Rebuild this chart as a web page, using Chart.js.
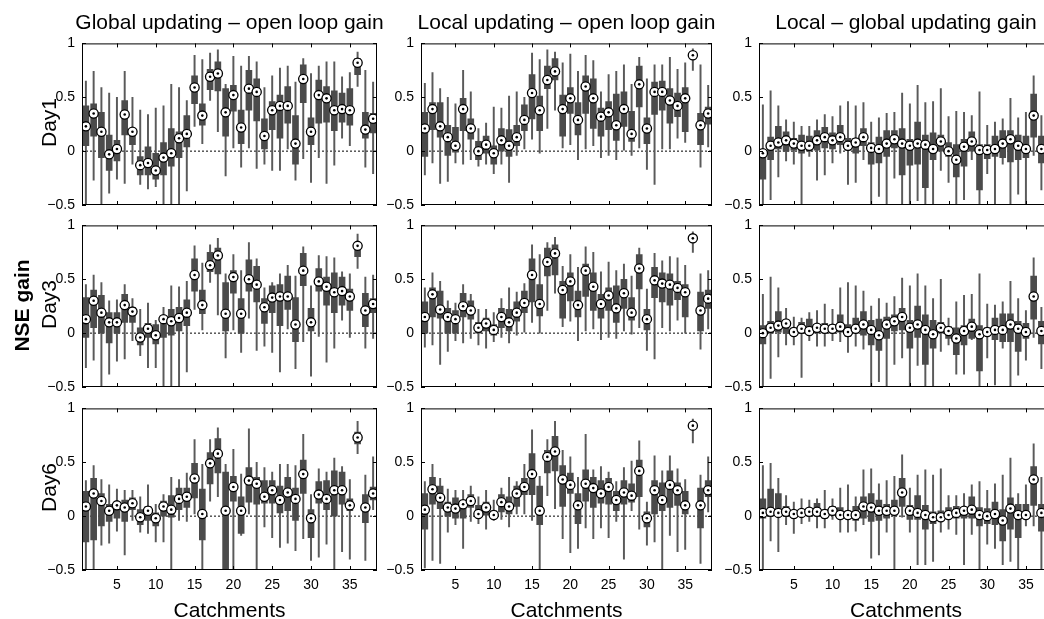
<!DOCTYPE html>
<html>
<head>
<meta charset="utf-8">
<script src="https://cdn.jsdelivr.net/npm/chart.js@4.4.1/dist/chart.umd.min.js"></script>
<style>
html,body{margin:0;padding:0;overflow:hidden;background:#fff;}
#wrap{position:relative;width:1044px;height:619px;overflow:hidden;background:#fff;font-family:"Liberation Sans",Arial,Helvetica,sans-serif;color:#000;}
.lbl{position:absolute;font-size:21px;line-height:21px;white-space:nowrap;text-align:center;}
canvas{position:absolute;}
</style>
</head>
<body>
<div id="wrap"></div>
<script>
// ---------- data ----------
const catchments = [1,2,3,4,5,6,7,8,9,10,11,12,13,14,15,16,17,18,19,20,21,22,23,24,25,26,27,28,29,30,31,32,33,34,35,36,37,38];
const xTickValues = [5,10,15,20,25,30,35];
const yTickValues = [-0.5,0,0.5,1];
const yTickLabels = ['\u22120.5','0','0.5','1'];
const columnTitles = ['Global updating \u2013 open loop gain','Local updating \u2013 open loop gain','Local \u2013 global updating gain'];
const rowLabels = ['Day1','Day3','Day6'];

// Global updating - open loop gain, Day1
const G1_lo  = [-0.6,-0.27,-0.6,-0.39,-0.26,-0.30,-0.12,-0.31,-0.35,-0.33,-0.6,-0.6,-0.6,-0.37,0.23,0.07,0.47,0.18,-0.23,0.03,-0.15,0.03,-0.16,-0.12,-0.18,-0.18,0.02,-0.27,-0.07,-0.29,-0.06,-0.30,-0.13,0.12,0.05,0.60,-0.15,-0.21];
const G1_q1  = [0.05,0.14,-0.06,-0.18,-0.09,0.15,0.06,-0.22,-0.22,-0.26,-0.22,-0.14,-0.06,0.04,0.44,0.24,0.57,0.56,0.14,0.37,0.07,0.38,0.28,0.02,0.20,0.12,0.26,-0.12,0.45,0.06,0.26,0.27,0.19,0.27,0.24,0.71,0.12,0.17];
const G1_med = [0.23,0.35,0.18,-0.03,0.02,0.34,0.18,-0.13,-0.11,-0.18,-0.06,-0.02,0.12,0.16,0.59,0.33,0.69,0.72,0.36,0.52,0.22,0.58,0.55,0.14,0.38,0.42,0.42,0.07,0.67,0.18,0.52,0.49,0.38,0.39,0.38,0.82,0.20,0.30];
const G1_q3  = [0.42,0.44,0.36,0.15,0.10,0.47,0.21,-0.05,0.04,-0.02,0.08,0.21,0.18,0.33,0.70,0.44,0.76,0.83,0.58,0.61,0.38,0.75,0.67,0.30,0.46,0.52,0.60,0.33,0.80,0.31,0.66,0.60,0.56,0.54,0.58,0.86,0.36,0.35];
const G1_hi  = [0.65,0.74,0.59,0.54,0.50,0.74,0.50,0.38,0.34,0.40,0.42,0.62,0.59,0.47,0.89,0.85,0.91,0.94,0.62,0.88,0.79,0.88,0.83,0.59,0.70,0.77,0.79,0.64,0.86,0.72,0.79,0.83,0.83,0.69,0.73,0.92,0.75,0.64];

// Local updating - open loop gain, Day1
const L1_lo  = [-0.22,-0.11,-0.30,-0.28,-0.11,-0.12,-0.08,-0.14,-0.12,-0.21,-0.12,-0.29,-0.04,0.02,0.11,-0.02,0.21,0.38,0.03,0.06,-0.08,0.02,0.05,-0.06,-0.04,-0.08,0.01,-0.04,0.03,-0.17,-0.31,0.02,0.02,0.12,0.08,0.75,-0.15,0.04];
const L1_q1  = [-0.05,0.20,0.13,-0.04,-0.01,0.19,0.11,-0.08,-0.02,-0.12,0.0,-0.05,0.05,0.19,0.30,0.19,0.58,0.66,0.14,0.35,0.15,0.35,0.21,0.14,0.20,0.10,0.23,0.09,0.41,0.07,0.34,0.38,0.26,0.32,0.18,0.87,0.06,0.25];
const L1_med = [0.21,0.39,0.23,0.13,0.05,0.39,0.21,0.0,0.06,-0.02,0.10,0.05,0.13,0.29,0.54,0.38,0.66,0.74,0.39,0.49,0.29,0.60,0.49,0.32,0.36,0.24,0.39,0.16,0.62,0.21,0.55,0.55,0.47,0.42,0.49,0.89,0.24,0.35];
const L1_q3  = [0.36,0.45,0.45,0.24,0.22,0.49,0.30,0.09,0.14,0.05,0.21,0.20,0.24,0.43,0.71,0.51,0.79,0.86,0.52,0.59,0.45,0.70,0.67,0.40,0.46,0.53,0.55,0.37,0.79,0.31,0.64,0.65,0.58,0.54,0.59,0.91,0.35,0.41];
const L1_hi  = [0.63,0.73,0.58,0.50,0.44,0.75,0.55,0.21,0.26,0.41,0.40,0.51,0.55,0.50,0.91,0.85,0.94,0.92,0.82,0.90,0.74,0.89,0.84,0.55,0.71,0.74,0.80,0.62,0.87,0.67,0.80,0.80,0.87,0.76,0.82,0.95,0.80,0.61];

// Local - global updating gain, Day1
const D1_lo  = [-0.6,-0.45,-0.24,-0.09,-0.12,-0.6,-0.05,-0.27,-0.22,-0.11,-0.02,-0.31,-0.29,-0.08,-0.6,-0.42,-0.6,-0.25,-0.6,-0.6,-0.46,-0.6,-0.6,-0.18,-0.29,-0.6,-0.45,-0.08,-0.6,-0.21,-0.6,-0.12,-0.6,-0.40,-0.6,-0.04,-0.36,-0.30];
const D1_q1  = [-0.26,-0.08,0.02,0.0,0.01,-0.02,0.0,0.01,0.03,0.02,0.06,0.01,-0.02,0.05,-0.12,-0.11,-0.05,0.03,-0.22,-0.13,-0.12,-0.34,-0.08,0.0,-0.05,-0.24,-0.14,0.0,-0.36,-0.07,-0.05,-0.06,-0.10,-0.08,-0.06,0.13,-0.11,-0.08];
const D1_med = [-0.02,0.05,0.08,0.10,0.07,0.05,0.05,0.10,0.13,0.10,0.13,0.05,0.08,0.13,0.03,0.02,0.07,0.11,0.07,0.05,0.07,0.06,0.02,0.09,0.0,-0.08,0.04,0.09,0.01,0.01,0.02,0.07,0.11,0.05,0.02,0.33,0.02,0.02];
const D1_q3  = [0.0,0.13,0.23,0.18,0.12,0.15,0.14,0.19,0.22,0.17,0.24,0.12,0.12,0.21,0.08,0.13,0.19,0.19,0.21,0.11,0.27,0.15,0.17,0.15,0.08,0.06,0.11,0.18,0.06,0.06,0.14,0.19,0.19,0.15,0.14,0.53,0.14,0.12];
const D1_hi  = [0.43,0.56,0.42,0.29,0.27,0.23,0.23,0.29,0.34,0.32,0.42,0.46,0.42,0.45,0.27,0.31,0.35,0.36,0.54,0.44,0.61,0.45,0.46,0.58,0.32,0.37,0.36,0.33,0.55,0.24,0.27,0.30,0.49,0.31,0.36,0.70,0.33,0.30];

// Global updating - open loop gain, Day3
const G3_lo  = [-0.32,-0.25,-0.6,-0.38,-0.26,-0.24,-0.07,-0.21,-0.32,-0.32,-0.6,-0.6,-0.6,-0.36,0.22,0.03,0.47,0.17,-0.23,0.03,-0.18,0.14,-0.16,-0.12,-0.18,-0.36,0.04,-0.33,-0.08,-0.40,-0.03,-0.27,-0.14,0.12,-0.04,0.60,-0.14,-0.05];
const G3_q1  = [-0.04,0.05,0.0,-0.09,0.0,0.10,0.10,-0.11,-0.04,-0.10,-0.04,-0.02,0.02,0.07,0.39,0.18,0.57,0.55,0.02,0.37,0.0,0.39,0.29,0.09,0.19,0.07,0.22,-0.08,0.44,0.02,0.39,0.26,0.19,0.26,0.21,0.71,0.06,0.19];
const G3_med = [0.13,0.30,0.19,0.10,0.10,0.26,0.20,-0.04,0.04,-0.02,0.13,0.11,0.14,0.19,0.54,0.26,0.63,0.72,0.18,0.52,0.18,0.50,0.45,0.24,0.33,0.34,0.34,0.08,0.58,0.10,0.48,0.43,0.38,0.39,0.34,0.81,0.21,0.27];
const G3_q3  = [0.33,0.40,0.35,0.19,0.19,0.36,0.24,0.05,0.09,0.08,0.15,0.22,0.24,0.31,0.69,0.40,0.75,0.79,0.47,0.58,0.32,0.68,0.62,0.32,0.44,0.45,0.53,0.33,0.74,0.23,0.60,0.52,0.56,0.52,0.41,0.84,0.37,0.32];
const G3_hi  = [0.45,0.54,0.47,0.30,0.31,0.45,0.32,0.22,0.28,0.12,0.24,0.44,0.43,0.48,0.81,0.65,0.82,0.88,0.55,0.73,0.58,0.84,0.69,0.42,0.47,0.55,0.63,0.53,0.80,0.44,0.72,0.71,0.70,0.57,0.55,0.92,0.52,0.54];

// Local updating - open loop gain, Day3
const L3_lo  = [-0.13,-0.11,-0.29,-0.17,-0.07,-0.09,-0.05,-0.11,-0.14,-0.08,-0.04,-0.09,-0.02,0.01,0.10,0.0,0.21,0.37,0.06,0.11,-0.07,0.02,0.04,-0.06,-0.04,-0.05,0.02,-0.01,0.05,-0.16,-0.24,0.05,0.02,0.12,0.0,0.75,-0.15,0.04];
const L3_q1  = [0.0,0.15,0.14,0.0,0.0,0.15,0.13,0.0,0.02,-0.02,0.05,0.02,0.11,0.19,0.29,0.16,0.53,0.54,0.14,0.30,0.15,0.34,0.21,0.14,0.21,0.10,0.23,0.12,0.41,0.03,0.33,0.29,0.26,0.31,0.15,0.86,0.02,0.23];
const L3_med = [0.15,0.36,0.22,0.15,0.13,0.25,0.21,0.05,0.09,0.03,0.15,0.10,0.19,0.28,0.54,0.27,0.66,0.74,0.40,0.48,0.26,0.58,0.43,0.27,0.35,0.23,0.37,0.19,0.60,0.13,0.49,0.46,0.45,0.42,0.38,0.88,0.21,0.32];
const L3_q3  = [0.29,0.42,0.39,0.23,0.21,0.37,0.30,0.10,0.14,0.08,0.23,0.22,0.29,0.39,0.69,0.45,0.79,0.82,0.48,0.56,0.39,0.64,0.56,0.36,0.42,0.44,0.50,0.33,0.73,0.22,0.61,0.56,0.55,0.48,0.45,0.90,0.38,0.40];
const L3_hi  = [0.42,0.56,0.48,0.30,0.28,0.45,0.36,0.22,0.22,0.19,0.32,0.42,0.38,0.46,0.82,0.73,0.84,0.89,0.62,0.73,0.61,0.80,0.75,0.57,0.66,0.58,0.64,0.53,0.79,0.41,0.74,0.67,0.71,0.70,0.63,0.94,0.55,0.58];

// Local - global updating gain, Day3
const D3_lo  = [-0.6,-0.42,-0.22,-0.11,-0.11,-0.41,-0.07,-0.12,-0.12,-0.07,-0.08,-0.18,-0.12,-0.15,-0.6,-0.45,-0.6,-0.29,-0.23,-0.6,-0.30,-0.6,-0.6,-0.17,-0.11,-0.38,-0.38,-0.06,-0.6,-0.23,-0.48,-0.14,-0.6,-0.39,-0.25,-0.04,-0.33,-0.30];
const D3_q1  = [-0.10,0.0,0.01,0.0,-0.02,0.0,-0.01,0.0,0.0,0.0,0.01,-0.03,0.0,-0.02,-0.11,-0.16,-0.05,0.02,0.03,-0.14,-0.04,-0.29,-0.14,0.0,-0.05,-0.20,-0.11,-0.05,-0.35,-0.02,-0.06,-0.08,-0.08,-0.17,-0.05,0.13,-0.10,-0.08];
const D3_med = [0.0,0.05,0.07,0.09,0.01,0.04,0.02,0.05,0.04,0.04,0.06,0.01,0.04,0.08,0.03,-0.02,0.08,0.11,0.15,0.05,0.08,0.03,-0.01,0.05,0.02,-0.05,0.02,0.06,-0.01,0.01,0.03,0.03,0.08,0.04,0.01,0.34,0.02,0.02];
const D3_q3  = [0.07,0.11,0.20,0.12,0.05,0.10,0.13,0.08,0.09,0.08,0.17,0.08,0.14,0.20,0.12,0.13,0.15,0.17,0.23,0.12,0.25,0.17,0.12,0.10,0.06,0.05,0.07,0.13,0.07,0.05,0.14,0.18,0.18,0.11,0.09,0.53,0.11,0.10];
const D3_hi  = [0.36,0.52,0.42,0.23,0.15,0.14,0.19,0.21,0.27,0.22,0.42,0.47,0.44,0.39,0.25,0.32,0.28,0.34,0.51,0.44,0.55,0.44,0.32,0.50,0.14,0.29,0.35,0.36,0.55,0.27,0.26,0.29,0.48,0.32,0.21,0.70,0.24,0.25];

// Global updating - open loop gain, Day6
const G6_lo  = [-0.6,-0.6,-0.27,-0.25,-0.14,-0.36,-0.04,-0.15,-0.16,-0.24,-0.24,-0.6,-0.04,-0.05,0.02,-0.6,0.14,0.18,-0.6,-0.6,-0.18,0.02,-0.6,-0.10,-0.20,-0.29,-0.25,-0.32,-0.21,-0.41,-0.38,-0.26,-0.6,-0.33,-0.40,0.58,-0.41,0.06];
const G6_q1  = [-0.24,-0.22,-0.09,-0.05,-0.02,-0.05,0.06,-0.08,-0.04,-0.09,0.0,-0.01,0.06,0.08,0.17,-0.22,0.30,0.40,-0.55,0.14,-0.16,0.13,0.11,0.12,0.12,0.03,0.05,-0.04,0.21,-0.20,0.12,0.06,0.0,0.11,0.05,0.67,-0.06,0.15];
const G6_med = [0.09,0.21,0.14,0.05,0.10,0.08,0.12,-0.01,0.05,-0.02,0.09,0.06,0.16,0.18,0.35,0.02,0.49,0.58,0.05,0.27,0.05,0.33,0.30,0.18,0.24,0.15,0.22,0.16,0.39,-0.02,0.20,0.16,0.24,0.24,0.10,0.73,0.08,0.21];
const G6_q3  = [0.23,0.35,0.21,0.11,0.13,0.15,0.17,0.06,0.09,0.03,0.14,0.19,0.26,0.26,0.49,0.25,0.59,0.72,0.41,0.37,0.18,0.45,0.36,0.33,0.33,0.28,0.36,0.26,0.52,0.06,0.32,0.33,0.42,0.41,0.16,0.78,0.20,0.27];
const G6_hi  = [0.33,0.47,0.34,0.29,0.25,0.24,0.24,0.18,0.29,0.11,0.20,0.36,0.34,0.40,0.71,0.48,0.71,0.82,0.48,0.62,0.39,0.81,0.50,0.45,0.41,0.48,0.48,0.47,0.76,0.20,0.44,0.41,0.54,0.46,0.34,0.88,0.38,0.55];

// Local updating - open loop gain, Day6
const L6_lo  = [-0.48,-0.41,-0.44,-0.15,-0.08,-0.30,-0.05,-0.07,-0.12,-0.04,-0.03,-0.10,0.02,0.02,-0.04,-0.6,0.19,0.07,-0.21,-0.34,-0.30,-0.11,-0.21,-0.11,-0.20,-0.05,-0.40,0.05,-0.12,-0.27,-0.24,-0.6,-0.18,-0.33,-0.31,0.68,-0.44,0.04];
const L6_q1  = [-0.12,0.11,0.07,0.0,-0.02,-0.02,0.08,0.0,0.01,-0.02,0.04,0.02,0.09,0.20,0.20,-0.08,0.40,0.42,0.09,0.21,-0.07,0.14,0.08,0.12,0.11,0.05,0.11,0.13,0.18,-0.10,0.02,0.05,0.08,0.10,0.02,0.82,-0.11,0.18];
const L6_med = [0.06,0.25,0.17,0.08,0.07,0.11,0.14,0.02,0.08,0.01,0.13,0.09,0.21,0.27,0.39,0.05,0.55,0.60,0.34,0.29,0.10,0.30,0.26,0.21,0.27,0.15,0.22,0.19,0.42,-0.02,0.24,0.15,0.29,0.24,0.10,0.84,0.10,0.24];
const L6_q3  = [0.21,0.36,0.28,0.13,0.17,0.15,0.20,0.10,0.13,0.05,0.20,0.18,0.28,0.35,0.58,0.28,0.61,0.74,0.47,0.40,0.21,0.43,0.36,0.33,0.35,0.23,0.33,0.30,0.52,0.04,0.33,0.31,0.42,0.31,0.23,0.86,0.26,0.33];
const L6_hi  = [0.32,0.48,0.35,0.25,0.24,0.24,0.28,0.18,0.24,0.15,0.26,0.36,0.32,0.48,0.80,0.37,0.71,0.88,0.61,0.55,0.36,0.76,0.43,0.46,0.41,0.32,0.45,0.51,0.70,0.13,0.56,0.42,0.56,0.44,0.34,0.90,0.38,0.55];

// Local - global updating gain, Day6
const D6_lo  = [-0.6,-0.23,-0.33,-0.08,-0.16,-0.07,-0.05,-0.11,-0.11,-0.03,-0.15,-0.15,-0.14,-0.08,-0.39,-0.36,-0.15,-0.6,-0.01,-0.15,-0.45,-0.45,-0.42,-0.15,-0.12,-0.17,-0.45,-0.17,-0.6,-0.26,-0.30,-0.45,-0.42,-0.6,-0.09,-0.09,-0.6,-0.30];
const D6_q1  = [-0.02,0.0,0.0,0.0,0.0,0.0,0.0,0.0,-0.02,0.01,-0.02,0.0,-0.04,-0.02,-0.05,-0.04,-0.02,0.01,0.09,-0.03,-0.03,-0.12,-0.07,-0.04,-0.02,-0.02,-0.02,-0.02,-0.09,-0.07,-0.08,-0.23,-0.12,-0.20,-0.02,0.10,-0.14,-0.14];
const D6_med = [0.03,0.04,0.03,0.04,0.02,0.03,0.04,0.04,0.02,0.05,0.01,0.01,0.01,0.09,0.08,0.05,0.05,0.05,0.22,0.05,0.03,0.01,-0.01,-0.01,0.01,0.03,0.05,0.06,0.01,0.0,0.02,-0.04,0.07,0.01,0.01,0.34,0.03,0.02];
const D6_q3  = [0.16,0.25,0.21,0.09,0.05,0.06,0.07,0.12,0.06,0.09,0.08,0.05,0.09,0.18,0.21,0.15,0.11,0.15,0.35,0.10,0.19,0.10,0.04,0.05,0.08,0.09,0.07,0.18,0.08,0.07,0.13,0.06,0.17,0.11,0.11,0.46,0.11,0.10];
const D6_hi  = [0.47,0.49,0.35,0.19,0.13,0.16,0.15,0.16,0.24,0.16,0.26,0.29,0.18,0.43,0.44,0.30,0.33,0.37,0.57,0.26,0.38,0.43,0.38,0.44,0.19,0.19,0.21,0.29,0.32,0.24,0.30,0.38,0.54,0.21,0.29,0.67,0.36,0.25];

// ---------- layout ----------
const FONT = '"Liberation Sans", Arial, Helvetica, sans-serif';
Chart.defaults.font.family = FONT;
const colLeft = [82, 421, 759];
const colWidth = [295, 291, 294];
const rowTop = [40, 222, 405];
const panelH = 165;
const PL = 46, PT = 12, PR = 12, PB = 30;

const panels = [
  {c:0,r:0,lo:G1_lo,q1:G1_q1,med:G1_med,q3:G1_q3,hi:G1_hi},
  {c:1,r:0,lo:L1_lo,q1:L1_q1,med:L1_med,q3:L1_q3,hi:L1_hi},
  {c:2,r:0,lo:D1_lo,q1:D1_q1,med:D1_med,q3:D1_q3,hi:D1_hi},
  {c:0,r:1,lo:G3_lo,q1:G3_q1,med:G3_med,q3:G3_q3,hi:G3_hi},
  {c:1,r:1,lo:L3_lo,q1:L3_q1,med:L3_med,q3:L3_q3,hi:L3_hi},
  {c:2,r:1,lo:D3_lo,q1:D3_q1,med:D3_med,q3:D3_q3,hi:D3_hi},
  {c:0,r:2,lo:G6_lo,q1:G6_q1,med:G6_med,q3:G6_q3,hi:G6_hi},
  {c:1,r:2,lo:L6_lo,q1:L6_q1,med:L6_med,q3:L6_q3,hi:L6_hi},
  {c:2,r:2,lo:D6_lo,q1:D6_q1,med:D6_med,q3:D6_q3,hi:D6_hi}
];

// frame + inward ticks (MATLAB style), drawn from the chart's own scales
const framePlugin = {
  id: 'matlabFrame',
  afterDatasetsDraw(chart) {
    const {ctx, chartArea: a, scales} = chart;
    const x = scales.x, y = scales.y;
    const L = 4;
    ctx.save();
    ctx.strokeStyle = '#000';
    ctx.lineWidth = 1;
    ctx.beginPath();
    x.ticks.forEach(t => {
      const px = Math.round(x.getPixelForValue(t.value)) + 0.5;
      ctx.moveTo(px, a.bottom); ctx.lineTo(px, a.bottom - L);
      ctx.moveTo(px, a.top); ctx.lineTo(px, a.top + L);
    });
    y.ticks.forEach(t => {
      const py = Math.round(y.getPixelForValue(t.value)) + 0.5;
      ctx.moveTo(a.left, py); ctx.lineTo(a.left + L, py);
      ctx.moveTo(a.right, py); ctx.lineTo(a.right - L, py);
    });
    ctx.stroke();
    ctx.strokeRect(a.left + 0.5, a.top + 0.5, a.right - a.left - 1, a.bottom - a.top - 1);
    ctx.restore();
  }
};

const wrap = document.getElementById('wrap');

panels.forEach(p => {
  const w = colWidth[p.c] + PL + PR;
  const h = panelH + PT + PB;
  const cv = document.createElement('canvas');
  cv.width = w; cv.height = h;
  cv.style.left = (colLeft[p.c] - PL) + 'px';
  cv.style.top = (rowTop[p.r] - PT) + 'px';
  cv.style.width = w + 'px';
  cv.style.height = h + 'px';
  wrap.appendChild(cv);

  const whiskers = catchments.map((c, i) => ({x: c, y: [p.lo[i], p.hi[i]]}));
  const boxes = catchments.map((c, i) => ({x: c, y: [p.q1[i], p.q3[i]]}));
  const medians = catchments.map((c, i) => ({x: c, y: p.med[i]}));

  new Chart(cv, {
    type: 'bar',
    data: {
      datasets: [
        {type: 'scatter', data: medians, pointRadius: 1.3, pointBackgroundColor: '#000', pointBorderWidth: 0, pointBorderColor: '#000', order: 0},
        {type: 'scatter', data: medians, pointRadius: 4.6, pointBackgroundColor: '#fff', pointBorderColor: '#000', pointBorderWidth: 1.3, order: 1},
        {type: 'bar', data: boxes, backgroundColor: '#4b4b4b', borderWidth: 0, barThickness: 6, grouped: false, order: 2},
        {type: 'bar', data: whiskers, backgroundColor: '#5a5a5a', borderWidth: 0, barThickness: 1.3, grouped: false, order: 3},
        {type: 'line', data: [{x: 0.5, y: 0}, {x: 38.5, y: 0}], borderColor: '#000', borderWidth: 1, borderDash: [2, 2], pointRadius: 0, order: 4}
      ]
    },
    options: {
      responsive: false,
      animation: false,
      devicePixelRatio: 1,
      layout: {padding: {left: 0, top: PT, right: PR, bottom: 0}},
      plugins: {legend: {display: false}, tooltip: {enabled: false}, title: {display: false}},
      scales: {
        x: {
          type: 'linear', min: 0.5, max: 38.5, offset: false,
          grid: {display: false, drawTicks: false, offset: false},
          border: {display: false},
          afterBuildTicks: s => { s.ticks = xTickValues.map(v => ({value: v})); },
          afterFit: s => { s.height = PB; },
          ticks: {display: p.r === 2, padding: 7, color: '#000', font: {family: FONT, size: 14}, maxRotation: 0, autoSkip: false}
        },
        y: {
          type: 'linear', min: -0.5, max: 1,
          grid: {display: false, drawTicks: false},
          border: {display: false},
          afterBuildTicks: s => { s.ticks = yTickValues.map(v => ({value: v})); },
          afterFit: s => { s.width = PL; },
          ticks: {padding: 7, color: '#000', font: {family: FONT, size: 14}, autoSkip: false,
                  callback: v => yTickLabels[yTickValues.indexOf(v)]}
        }
      }
    },
    plugins: [framePlugin]
  });
});

// ---------- text labels ----------
function addLabel(text, cx, top, opts) {
  const d = document.createElement('div');
  d.className = 'lbl';
  d.textContent = text;
  d.style.width = '400px';
  d.style.left = (cx - 200) + 'px';
  d.style.top = top + 'px';
  if (opts && opts.bold) d.style.fontWeight = 'bold';
  wrap.appendChild(d);
  return d;
}
function addRotLabel(text, cx, cy, bold) {
  const d = document.createElement('div');
  d.className = 'lbl';
  d.textContent = text;
  d.style.width = '200px';
  d.style.height = '21px';
  d.style.left = (cx - 100) + 'px';
  d.style.top = (cy - 10.5) + 'px';
  d.style.transform = 'rotate(-90deg)';
  if (bold) d.style.fontWeight = 'bold';
  wrap.appendChild(d);
}
for (let c = 0; c < 3; c++) {
  const cx = colLeft[c] + colWidth[c] / 2;
  addLabel(columnTitles[c], cx, 11);
  addLabel('Catchments', cx, 599);
}
for (let r = 0; r < 3; r++) {
  addRotLabel(rowLabels[r], 48, rowTop[r] + panelH / 2);
}
addRotLabel('NSE gain', 21, 305, true);
</script>
</body>
</html>
